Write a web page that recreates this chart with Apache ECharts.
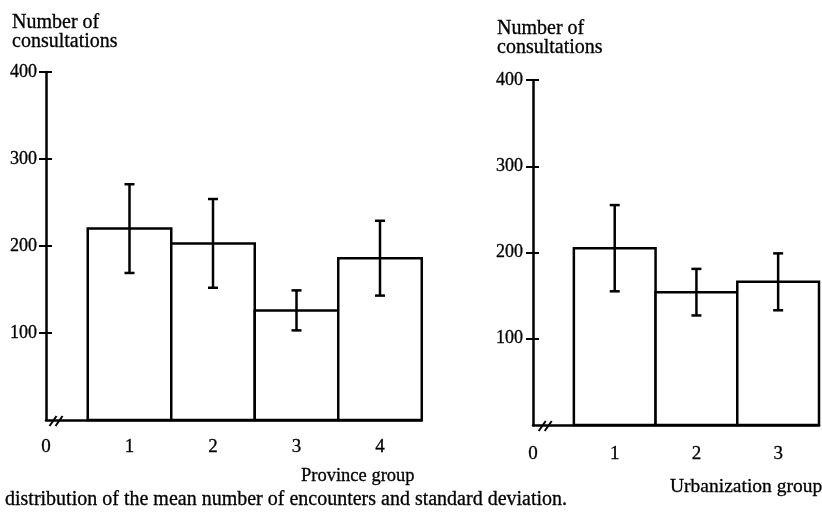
<!DOCTYPE html>
<html>
<head>
<meta charset="utf-8">
<script src="https://cdn.jsdelivr.net/npm/echarts@6/dist/echarts.min.js"></script>
<style>
html,body{margin:0;padding:0;background:#fff;}
#chart{width:822px;height:513px;}
</style>
</head>
<body>
<div id="chart"></div>
<script>
// ---- data ----
const provinceTicks = ['0', '1', '2', '3', '4'];
const provinceMeans = [220, 203, 126, 186];
const provinceSD = [51, 51, 23, 43];

const urbanTicks = ['0', '1', '2', '3'];
const urbanMeans = [205, 154, 166];
const urbanSD = [50, 27, 33];

const yTicks = [100, 200, 300, 400];

const yTitle = 'Number of\nconsultations';
const provinceTitle = 'Province group';
const urbanTitle = 'Urbanization group';
const caption = 'distribution of the mean number of encounters and standard deviation.';

// ---- chart ----
const FONT = '"Liberation Serif", "DejaVu Serif", serif';
const chart = echarts.init(document.getElementById('chart'), null, {renderer: 'canvas'});

function barData(means) { return means.map((v, i) => [i + 1, v]); }
function errData(means, sd) { return means.map((v, i) => [i + 1, v, sd[i]]); }

function renderBar(params, api) {
  const i = api.value(0), v = api.value(1);
  const p1 = api.coord([i - 0.5, v]);
  const p2 = api.coord([i + 0.5, 0]);
  return {
    type: 'rect',
    shape: {x: p1[0], y: p1[1], width: p2[0] - p1[0], height: p2[1] - p1[1]},
    style: {fill: '#fff', stroke: '#000', lineWidth: 2.5}
  };
}
function renderErr(params, api) {
  const i = api.value(0), v = api.value(1), e = api.value(2);
  const top = api.coord([i, v + e]);
  const bot = api.coord([i, v - e]);
  const cap = 5;
  const st = {stroke: '#000', lineWidth: 2.5};
  return {
    type: 'group',
    children: [
      {type: 'line', shape: {x1: top[0], y1: top[1], x2: bot[0], y2: bot[1]}, style: st},
      {type: 'line', shape: {x1: top[0] - cap, y1: top[1], x2: top[0] + cap, y2: top[1]}, style: st},
      {type: 'line', shape: {x1: bot[0] - cap, y1: bot[1], x2: bot[0] + cap, y2: bot[1]}, style: st}
    ]
  };
}
function renderBreak(params, api) {
  const p = api.coord([api.value(0), api.value(1)]);
  const st = {stroke: '#000', lineWidth: 2};
  return {
    type: 'group',
    children: [
      {type: 'line', shape: {x1: p[0] - 9, y1: p[1] + 6, x2: p[0] - 2, y2: p[1] - 4}, style: st},
      {type: 'line', shape: {x1: p[0] - 3, y1: p[1] + 6, x2: p[0] + 4, y2: p[1] - 4}, style: st}
    ]
  };
}

function xAxisCfg(gridIndex, ticks, max, margin) {
  return {
    type: 'value', gridIndex: gridIndex, min: 0, max: max, interval: 1,
    axisLine: {show: true, lineStyle: {color: '#000', width: 2.5}},
    axisTick: {show: false},
    splitLine: {show: false},
    axisLabel: {
      color: '#000', fontFamily: FONT, fontSize: 19, margin: margin,
      textBorderColor: '#000', textBorderWidth: 0.3,
      formatter: v => (Number.isInteger(v) && ticks[v] !== undefined) ? ticks[v] : ''
    }
  };
}
function yAxisCfg(gridIndex, margin) {
  return {
    type: 'value', gridIndex: gridIndex, min: 0, max: 400, interval: 100, position: 'left',
    axisLine: {show: true, lineStyle: {color: '#000', width: 2.5}},
    axisTick: {show: true, length: 7, customValues: yTicks, lineStyle: {color: '#000', width: 2}},
    splitLine: {show: false},
    axisLabel: {color: '#000', fontFamily: FONT, fontSize: 18, margin: margin, customValues: yTicks,
      textBorderColor: '#000', textBorderWidth: 0.3}
  };
}
function yAxisInner(gridIndex) {
  return {
    type: 'value', gridIndex: gridIndex, min: 0, max: 400, interval: 100, position: 'left', offset: 0,
    axisLine: {show: false},
    axisTick: {show: true, inside: true, length: 6, customValues: yTicks, lineStyle: {color: '#000', width: 2}},
    splitLine: {show: false},
    axisLabel: {show: false}
  };
}

const base = {color: '#000', fontFamily: FONT, fontWeight: 'normal', textBorderColor: '#000', textBorderWidth: 0.3};
const titleStyle = Object.assign({}, base, {fontSize: 20, lineHeight: 19});
const provStyle = Object.assign({}, base, {fontSize: 18.5, lineHeight: 18});
const urbStyle = Object.assign({}, base, {fontSize: 19.5, lineHeight: 18});
const capStyle = Object.assign({}, base, {fontSize: 20, lineHeight: 18});

chart.setOption({
  backgroundColor: '#fff',
  animation: false,
  title: [
    {text: yTitle, left: 12, top: 13, padding: 0, textStyle: titleStyle},
    {text: yTitle, left: 497, top: 19, padding: 0, textStyle: titleStyle},
    {text: provinceTitle, left: 301, top: 467, padding: 0, textStyle: provStyle},
    {text: urbanTitle, left: 670, top: 478, padding: 0, textStyle: urbStyle},
    {text: caption, left: 5, top: 491, padding: 0, textStyle: capStyle}
  ],
  grid: [
    {left: 46, top: 72, width: 375.75, height: 348},
    {left: 533, top: 80, width: 287, height: 345}
  ],
  xAxis: [
    xAxisCfg(0, provinceTicks, 4.5, 18),
    xAxisCfg(1, urbanTicks, 3.5, 20)
  ],
  yAxis: [
    yAxisCfg(0, 9),
    yAxisInner(0),
    yAxisCfg(1, 10),
    yAxisInner(1)
  ],
  series: [
    {type: 'custom', xAxisIndex: 0, yAxisIndex: 0, renderItem: renderBar, data: barData(provinceMeans), clip: false},
    {type: 'custom', xAxisIndex: 0, yAxisIndex: 0, renderItem: renderErr, data: errData(provinceMeans, provinceSD), clip: false, z: 3},
    {type: 'custom', xAxisIndex: 0, yAxisIndex: 0, renderItem: renderBreak, data: [[0.15, 0]], clip: false, z: 3},
    {type: 'custom', xAxisIndex: 1, yAxisIndex: 2, renderItem: renderBar, data: barData(urbanMeans), clip: false},
    {type: 'custom', xAxisIndex: 1, yAxisIndex: 2, renderItem: renderErr, data: errData(urbanMeans, urbanSD), clip: false, z: 3},
    {type: 'custom', xAxisIndex: 1, yAxisIndex: 2, renderItem: renderBreak, data: [[0.18, 0]], clip: false, z: 3}
  ]
});
</script>
</body>
</html>
